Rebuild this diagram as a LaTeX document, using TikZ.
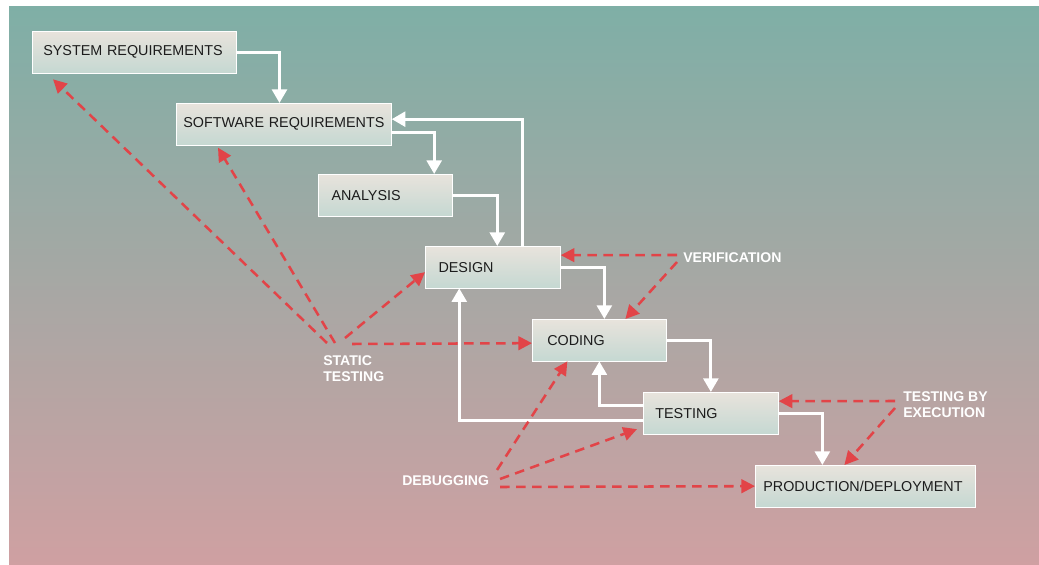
\documentclass[tikz,border=0pt]{standalone}
\usepackage{fontspec}
\setmainfont{Liberation Sans}
\usetikzlibrary{arrows.meta}

\definecolor{bgtop}{RGB}{127,175,166}
\definecolor{bgmid}{RGB}{168,167,160}
\definecolor{bgbot}{RGB}{207,160,162}
\definecolor{boxtop}{RGB}{232,227,220}
\definecolor{boxbot}{RGB}{197,216,210}
\definecolor{boxtext}{RGB}{28,28,28}
\definecolor{redline}{RGB}{226,68,72}

\begin{document}
\begin{tikzpicture}[x=0.025cm,y=-0.025cm,
  stage/.style 2 args={draw=white, line width=0.5pt, top color=boxtop, bottom color=boxbot,
    anchor=north west, align=left, minimum height=1.04cm, inner xsep=#1, text width=#2,
    text=boxtext, font=\fontsize{10.2}{12}\selectfont},
  tag/.style={anchor=north west, align=left, inner sep=0pt, text=white,
    font=\bfseries\fontsize{10}{11.5}\selectfont},
  flow/.style={draw=white, line width=2.2pt, -{Triangle[width=0.37cm,length=0.34cm]}},
  probe/.style={draw=redline, line width=1.8pt, dash pattern=on 0.24cm off 0.16cm,
    -{Triangle[width=0.34cm,length=0.34cm]}}]

  % background
  \fill[white] (0,0) rectangle (1039,565);
  \shade[top color=bgtop, middle color=bgmid, bottom color=bgbot] (9,7) rectangle (1039,565);
  \useasboundingbox (0,0) rectangle (1039,565);

  % stages
  \node[stage={0.275cm}{4.55cm}] (sysreq) at (32,31) {\mbox{SYSTEM REQUIREMENTS}};
  \node[stage={0.175cm}{5.025cm}] (softreq) at (176,103) {\mbox{SOFTWARE REQUIREMENTS}};
  \node[stage={0.33cm}{2.69cm}] (analysis) at (318,174) {ANALYSIS};
  \node[stage={0.33cm}{2.715cm}] (design) at (425,246) {DESIGN};
  \node[stage={0.375cm}{2.6cm}] (coding) at (532,319) {CODING};
  \node[stage={0.3cm}{2.775cm}] (testing) at (643,392) {TESTING};
  \node[stage={0.2cm}{5.1cm}] (production) at (755,465) {\mbox{PRODUCTION/DEPLOYMENT}};

  % labels
  \node[tag] (static) at (323,355) {STATIC\\TESTING};
  \node[tag] (verif) at (683,252) {VERIFICATION};
  \node[tag] (execution) at (903,391) {TESTING BY\\EXECUTION};
  \node[tag] (debug) at (402,475) {DEBUGGING};

  % waterfall
  \draw[flow] (sysreq.east) -| ([xshift=-0.11cm]softreq.north);
  \draw[flow] ([yshift=-0.2cm]softreq.east) -| ([xshift=1.22cm]analysis.north);
  \draw[flow] (analysis.east) -| ([xshift=0.11cm]design.north);
  \draw[flow] (design.east) -| ([xshift=0.125cm]coding.north);
  \draw[flow] (coding.east) -| (testing.north);
  \draw[flow] (testing.east) -| ([xshift=-1.075cm]production.north);

  % feedback
  \draw[flow] ([xshift=0.75cm]design.north) |- ([yshift=0.125cm]softreq.east);
  \draw[flow] ([yshift=0.19cm]testing.west) -| (coding.south);
  \draw[flow] ([yshift=-0.19cm]testing.west) -| ([xshift=-0.84cm]design.south);

  % static testing
  \draw[probe] ([xshift=0.1cm,yshift=0.3cm]static.north west) -- ([xshift=0.525cm,yshift=-0.15cm]sysreq.south west);
  \draw[probe] ([xshift=0.3cm,yshift=0.3cm]static.north west) -- ([xshift=1.05cm,yshift=-0.06cm]softreq.south west);
  \draw[probe] ([xshift=0.55cm,yshift=0.425cm]static.north west) -- ([yshift=-0.125cm]design.west);
  \draw[probe] ([xshift=0.725cm,yshift=0.275cm]static.north west) -- ([yshift=-0.075cm]coding.west);

  % verification
  \draw[probe] ([xshift=-0.15cm,yshift=-0.075cm]verif.north west) -- ([yshift=0.3cm]design.east);
  \draw[probe] ([xshift=-0.15cm,yshift=-0.25cm]verif.north west) -- ([xshift=0.65cm]coding.north);

  % testing by execution
  \draw[probe] ([xshift=-0.2cm,yshift=-0.25cm]execution.north west) -- ([yshift=0.3cm]testing.east);
  \draw[probe] ([xshift=-0.2cm,yshift=-0.425cm]execution.north west) -- ([xshift=-0.525cm]production.north);

  % debugging
  \draw[probe] ([xshift=2.375cm,yshift=0.125cm]debug.north west) -- ([xshift=-0.8cm]coding.south);
  \draw[probe] ([xshift=2.45cm,yshift=-0.1cm]debug.north west) -- ([xshift=-0.15cm,yshift=-0.4cm]testing.west);
  \draw[probe] ([xshift=2.45cm,yshift=-0.3cm]debug.north west) -- (production.west);
\end{tikzpicture}
\end{document}
